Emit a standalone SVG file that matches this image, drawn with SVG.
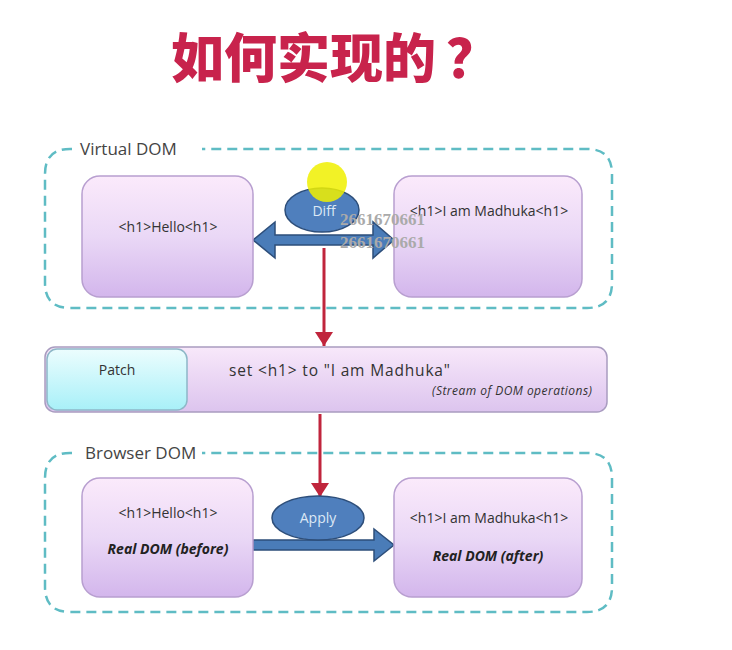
<svg xmlns="http://www.w3.org/2000/svg" width="732" height="650" viewBox="0 0 732 650">
<defs>
<linearGradient id="gBox" x1="0" y1="0" x2="0" y2="1">
<stop offset="0" stop-color="#fbeafb"/>
<stop offset="0.5" stop-color="#ead8f6"/>
<stop offset="1" stop-color="#d3b6ec"/>
</linearGradient>
<linearGradient id="gBar" x1="0" y1="0" x2="0" y2="1">
<stop offset="0" stop-color="#f8e8fa"/>
<stop offset="1" stop-color="#dcc4ee"/>
</linearGradient>
<linearGradient id="gPatch" x1="0" y1="0" x2="0" y2="1">
<stop offset="0" stop-color="#ecfdfe"/>
<stop offset="1" stop-color="#a8f0f8"/>
</linearGradient>
<marker id="redHead" markerWidth="18" markerHeight="18" refX="14" refY="9" orient="auto" markerUnits="userSpaceOnUse">
<path d="M0,0 L14,9 L0,18 z" fill="#c0253c"/>
</marker>
<style>
.cont{fill:none;stroke:#5fbcc4;stroke-width:2.5;stroke-dasharray:10 6}
.box{fill:url(#gBox);stroke:#b89fd0;stroke-width:1.5}
.lbl{font-family:"Open Sans","Liberation Sans",sans-serif;font-size:17px;fill:#444}
.t{font-family:"Open Sans","Liberation Sans",sans-serif;font-size:14px;fill:#333;text-anchor:middle}
.bi{font-family:"Open Sans","Liberation Sans",sans-serif;font-size:14px;font-weight:bold;font-style:italic;fill:#222;text-anchor:middle}
.ell{fill:#4f7fbd;stroke:#2d4e7a;stroke-width:1.5}
.et{font-family:"Open Sans","Liberation Sans",sans-serif;font-size:14px;fill:#dde8f5;text-anchor:middle}
.blue{fill:#4a7cb8;stroke:#2d4e7a;stroke-width:1.5}
.red{stroke:#c0253c;stroke-width:3;fill:none}
.wm{font-family:"Liberation Serif",serif;font-size:17px;font-weight:bold;fill:#aaaaaa}
.title{font-family:"Noto Sans CJK SC",sans-serif;font-size:53px;font-weight:900;fill:#c8234c}
</style>
</defs>
<rect width="732" height="650" fill="#ffffff"/>
<text class="title" x="171" y="78">如何实现的</text>
<text class="title" x="446" y="78">？</text>

<g id="virtual-dom">
<path class="cont" d="M72,149 L70,149 Q45,149 45,174 L45,283 Q45,308 70,308 L587,308 Q612,308 612,283 L612,174 Q612,149 587,149 L202,149"/>
<text class="lbl" x="80" y="155">Virtual DOM</text>
</g>
<g id="browser-dom">
<path class="cont" d="M72,453 L70,453 Q45,453 45,478 L45,587 Q45,612 70,612 L587,612 Q612,612 612,587 L612,478 Q612,453 587,453 L202,453"/>
<text class="lbl" x="85" y="459">Browser DOM</text>
</g>

<g id="connectors">
<path class="blue" d="M253,240 L275,222 L275,235 L373,235 L373,222 L394,240 L373,258 L373,245 L275,245 L275,258 z"/>
<line class="red" x1="324" y1="248" x2="324" y2="346" marker-end="url(#redHead)"/>
<line class="red" x1="320" y1="414" x2="320" y2="497" marker-end="url(#redHead)"/>
<path class="blue" d="M253,540 L374,540 L374,529 L394,545 L374,561 L374,550 L253,550 z"/>
</g>

<g id="vdom-before">
<rect class="box" x="82" y="176" width="171" height="121" rx="18"/>
<text class="t" x="168" y="232">&lt;h1&gt;Hello&lt;h1&gt;</text>
</g>
<g id="vdom-after">
<rect class="box" x="394" y="176" width="188" height="121" rx="18"/>
<text class="t" x="489" y="216">&lt;h1&gt;I am Madhuka&lt;h1&gt;</text>
</g>
<g id="diff">
<ellipse class="ell" cx="322" cy="210" rx="37" ry="22"/>
<text class="et" x="324" y="216">Diff</text>
<circle cx="327" cy="182" r="20" fill="#f0f000" opacity="0.85"/>
</g>

<g id="patch">
<rect x="45" y="347" width="562" height="65" rx="10" fill="url(#gBar)" stroke="#a99cc0" stroke-width="1.5"/>
<rect x="47" y="349" width="140" height="61" rx="10" fill="url(#gPatch)" stroke="#8db7c7" stroke-width="1.5"/>
<text class="t" x="117" y="375">Patch</text>
<text x="229" y="376" font-family="Open Sans, Liberation Sans, sans-serif" font-size="15.5" fill="#333" textLength="221">set &lt;h1&gt; to "I am Madhuka"</text>
<text x="432" y="395" font-family="Open Sans, Liberation Sans, sans-serif" font-size="12" font-style="italic" fill="#333" textLength="160">(Stream  of DOM operations)</text>
</g>

<g id="real-before">
<rect class="box" x="82" y="478" width="171" height="119" rx="18"/>
<text class="t" x="168" y="518">&lt;h1&gt;Hello&lt;h1&gt;</text>
<text class="bi" x="168" y="554">Real DOM (before)</text>
</g>
<g id="real-after">
<rect class="box" x="394" y="478" width="188" height="119" rx="18"/>
<text class="t" x="489" y="523">&lt;h1&gt;I am Madhuka&lt;h1&gt;</text>
<text class="bi" x="488" y="561">Real DOM (after)</text>
</g>
<g id="apply">
<ellipse class="ell" cx="318" cy="518" rx="46" ry="22"/>
<text class="et" x="318" y="523">Apply</text>
</g>

<text class="wm" x="340" y="225">2661670661</text>
<text class="wm" x="340" y="248">2661670661</text>
</svg>
